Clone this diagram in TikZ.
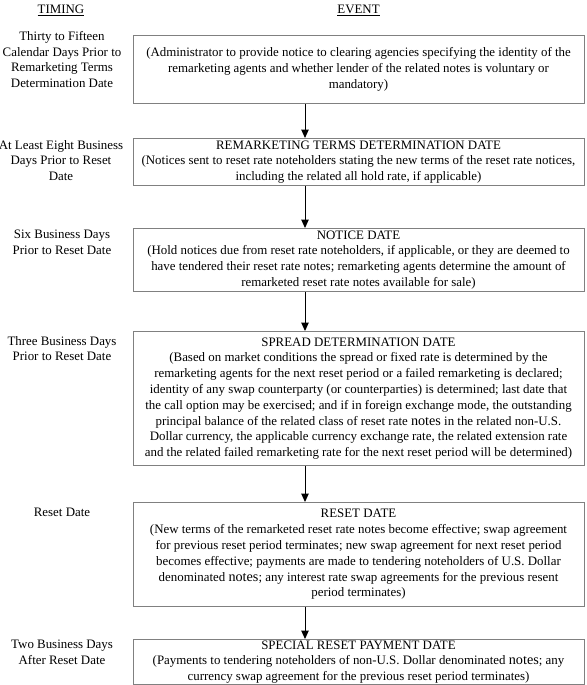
\documentclass[tikz,border=0pt]{standalone}
\usepackage{fontspec}
\setmainfont{Liberation Serif}
\usetikzlibrary{arrows.meta}
\definecolor{boxgray}{RGB}{128,128,128}
\newcommand\evfont{\fontsize{12.9}{15.8}\selectfont}
\newcommand\bignotes{{\fontsize{14.2}{15.8}\selectfont notes}}
\begin{document}
\begin{tikzpicture}[x=1pt,y=-1pt,
  box/.style={draw=boxgray, line width=1pt, minimum width=451pt, align=center, inner sep=0pt, anchor=north, font=\evfont},
  lbl/.style={align=center, inner sep=0pt, anchor=north, font=\evfont},
  hdr/.style={inner sep=0pt, font=\evfont},
  arr/.style={-{Triangle[width=7.5pt,length=8.5pt]}, line width=1pt, black}]
\useasboundingbox (0,0) rectangle (586,685);
\node[hdr] (th) at (61,10) {\underline{TIMING}};
\node[hdr] (eh) at (358.5,10) {\underline{EVENT}};
\coordinate (ax) at (305,0);

\node[box, minimum height=68pt] (b1) at (358.5,35) {(Administrator to provide notice to clearing agencies specifying the identity of the\\ remarketing agents and whether lender of the related notes is voluntary or\\ mandatory)};
\node[box, minimum height=47pt] (b2) at (358.5,138) {REMARKETING TERMS DETERMINATION DATE\\ (Notices sent to reset rate noteholders stating the new terms of the reset rate notices,\\ including the related all hold rate, if applicable)};
\node[box, minimum height=63pt] (b3) at (358.5,228) {NOTICE DATE\\ (Hold notices due from reset rate noteholders, if applicable, or they are deemed to\\ have tendered their reset rate notes; remarketing agents determine the amount of\\ remarketed reset rate notes available for sale)};
\node[box, minimum height=134pt] (b4) at (358.5,331) {SPREAD DETERMINATION DATE\\ (Based on market conditions the spread or fixed rate is determined by the\\ remarketing agents for the next reset period or a failed remarketing is declared;\\ identity of any swap counterparty (or counterparties) is determined; last date that\\ the call option may be exercised; and if in foreign exchange mode, the outstanding\\ principal balance of the related class of reset rate \bignotes{} in the related non-U.S.\\ Dollar currency, the applicable currency exchange rate, the related extension rate\\ and the related failed remarketing rate for the next reset period will be determined)};
\node[box, minimum height=104pt] (b5) at (358.5,502) {RESET DATE\\ (New terms of the remarketed reset rate notes become effective; swap agreement\\ for previous reset period terminates; new swap agreement for next reset period\\ becomes effective; payments are made to tendering noteholders of U.S. Dollar\\ denominated \bignotes; any interest rate swap agreements for the previous resent\\ period terminates)};
\node[box, minimum height=45pt] (b6) at (358.5,639) {SPECIAL RESET PAYMENT DATE\\ (Payments to tendering noteholders of non-U.S. Dollar denominated \bignotes; any\\ currency swap agreement for the previous reset period terminates)};

\node[lbl] (l1) at (62,31) {Thirty to Fifteen\\ Calendar Days Prior to\\ Remarketing Terms\\ Determination Date};
\node[lbl] (l2) at (61,140) {At Least Eight Business\\ Days Prior to Reset\\ Date};
\node[lbl] (l3) at (62,230) {Six Business Days\\ Prior to Reset Date};
\node[lbl] (l4) at (62,336) {Three Business Days\\ Prior to Reset Date};
\node[lbl] (l5) at (62,508) {Reset Date};
\node[lbl] (l6) at (62,640) {Two Business Days\\ After Reset Date};

\draw[arr] (b1.south -| ax) -- (b2.north -| ax);
\draw[arr] (b2.south -| ax) -- (b3.north -| ax);
\draw[arr] (b3.south -| ax) -- (b4.north -| ax);
\draw[arr] (b4.south -| ax) -- (b5.north -| ax);
\draw[arr] (b5.south -| ax) -- (b6.north -| ax);
\end{tikzpicture}
\end{document}
